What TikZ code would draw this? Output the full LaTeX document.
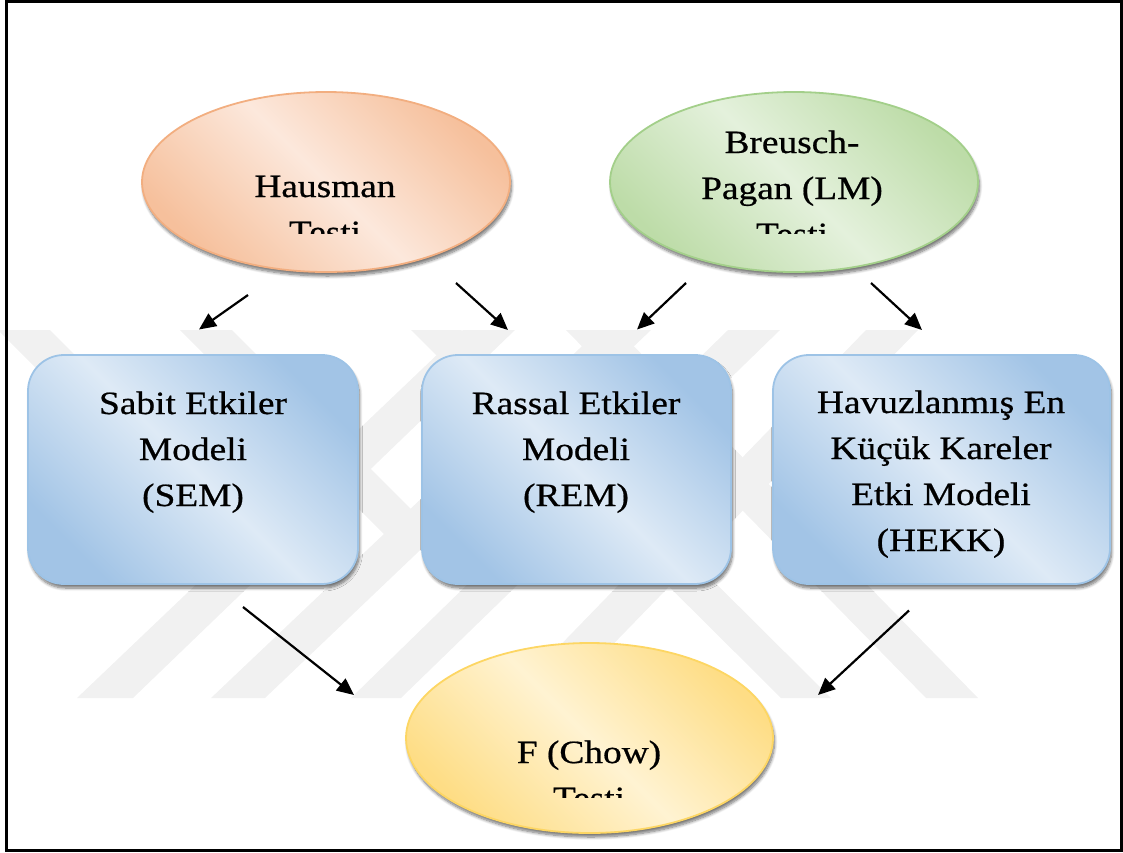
\documentclass[tikz,border=0pt]{standalone}
\usepackage{fontspec}
\setmainfont{Liberation Serif}[FakeStretch=1.15,FakeBold=0.6]
\usetikzlibrary{shapes.geometric,arrows.meta,shadows.blur}

\definecolor{orBorder}{HTML}{F2AE80}
\definecolor{orDark}{HTML}{F6C09C}
\definecolor{orLight}{HTML}{FCE8DC}
\definecolor{grBorder}{HTML}{A3CF8A}
\definecolor{grDark}{HTML}{BDDCA8}
\definecolor{grLight}{HTML}{E4F1DC}
\definecolor{yeBorder}{HTML}{FDD663}
\definecolor{yeDark}{HTML}{FEDD85}
\definecolor{yeLight}{HTML}{FFF3D2}
\definecolor{blBorder}{HTML}{9DC3E6}
\definecolor{blDark}{HTML}{A2C4E6}
\definecolor{blLight}{HTML}{DEEAF6}
\definecolor{wmgray}{HTML}{F1F1F1}

\tikzset{
  wm/.style={fill=wmgray},
  softshadow/.style={blur shadow={shadow xshift=1.5pt, shadow yshift=-4pt, shadow blur radius=3pt, shadow blur steps=8, shadow opacity=55}},
  ell/.style={ellipse, inner sep=0pt, line width=1.8pt, softshadow},
  modelbox/.style={rectangle, rounded corners=36pt, inner sep=0pt, line width=1.8pt, softshadow,
    draw=blBorder, top color=blDark, bottom color=blDark, middle color=blLight, shading angle=-45,
    minimum height=229pt},
  lbl/.style={anchor=base, inner sep=0pt, font={\fontsize{32.5}{46}\selectfont}},
  arr/.style={line width=2.2pt, -{Triangle[length=17pt,width=15pt]}},
  frame/.style={line width=3pt}
}

\begin{document}
\begin{tikzpicture}[x=1pt,y=-1pt]
\useasboundingbox (0,0) rectangle (1123,852);

% watermark (faint grey bands)
\fill[wm] (463,330) -- (515,330) -- (133,698) -- (77,698) -- cycle;
\fill[wm] (599,330) -- (651,330) -- (265,698) -- (211,698) -- cycle;
\fill[wm] (728,330) -- (780,330) -- (401,698) -- (351,698) -- cycle;
\fill[wm] (866,330) -- (918,330) -- (561,698) -- (509,698) -- cycle;
\fill[wm] (411,330) -- (461,330) -- (831,698) -- (781,698) -- cycle;
\fill[wm] (566,330) -- (618,330) -- (978,698) -- (926,698) -- cycle;
\fill[wm] (-2,330) -- (50,330) -- (280,560) -- (228,560) -- cycle;
\fill[wm] (180,330) -- (232,330) -- (452,550) -- (400,550) -- cycle;

% frame
\draw[frame] (6,1.5) rectangle (1121,850.5);

% ellipses
\node[ell, draw=orBorder, top color=orDark, bottom color=orDark, middle color=orLight, shading angle=-45,
      minimum width=368pt, minimum height=180pt] (haus) at (326,182) {};
\node[ell, draw=grBorder, top color=grDark, bottom color=grDark, middle color=grLight, shading angle=-45,
      minimum width=368pt, minimum height=180pt] (bp) at (794,182) {};
\node[ell, draw=yeBorder, top color=yeDark, bottom color=yeDark, middle color=yeLight, shading angle=-45,
      minimum width=367pt, minimum height=190pt] (fc) at (589.5,738) {};

% clipped ellipse texts
\begin{scope}
  \clip (140,95) rectangle (512,233);
  \node[lbl] (hausT) at (325,197) {\begin{tabular}[t]{@{}c@{}}Hausman\\Testi\end{tabular}};
\end{scope}
\begin{scope}
  \clip (608,95) rectangle (980,233);
  \node[lbl] (bpT) at (792,153) {\begin{tabular}[t]{@{}c@{}}Breusch-\\Pagan (LM)\\Testi\end{tabular}};
\end{scope}
\begin{scope}
  \clip (404,645) rectangle (775,797);
  \node[lbl] (fcT) at (589,763) {\begin{tabular}[t]{@{}c@{}}F (Chow)\\Testi\end{tabular}};
\end{scope}

% model boxes
\node[modelbox, minimum width=330pt] (sem) at (193,469.5) {};
\node[modelbox, minimum width=309pt] (rem) at (576.5,469.5) {};
\node[modelbox, minimum width=337pt] (hekk) at (941.5,469.5) {};

\node[lbl] (semT) at (193,414) {\begin{tabular}[t]{@{}c@{}}Sabit Etkiler\\Modeli\\(SEM)\end{tabular}};
\node[lbl] (remT) at (576,414) {\begin{tabular}[t]{@{}c@{}}Rassal Etkiler\\Modeli\\(REM)\end{tabular}};
\node[lbl] (hekkT) at (941,413) {\begin{tabular}[t]{@{}c@{}}Havuzlanmış En\\Küçük Kareler\\Etki Modeli\\(HEKK)\end{tabular}};

% arrow end points
\coordinate (a1s) at (248,295);   \coordinate (a1e) at (199,329.5);
\coordinate (a2s) at (456,283);   \coordinate (a2e) at (508,330);
\coordinate (a3s) at (686,283);   \coordinate (a3e) at (637,329.5);
\coordinate (a4s) at (871,283);   \coordinate (a4e) at (922,330);
\coordinate (b1s) at (243,607);   \coordinate (b1e) at (354,695);
\coordinate (b2s) at (909,610.5); \coordinate (b2e) at (818,695);

\draw[arr] (a1s) -- (a1e);
\draw[arr] (a2s) -- (a2e);
\draw[arr] (a3s) -- (a3e);
\draw[arr] (a4s) -- (a4e);
\draw[arr] (b1s) -- (b1e);
\draw[arr] (b2s) -- (b2e);
\end{tikzpicture}
\end{document}
